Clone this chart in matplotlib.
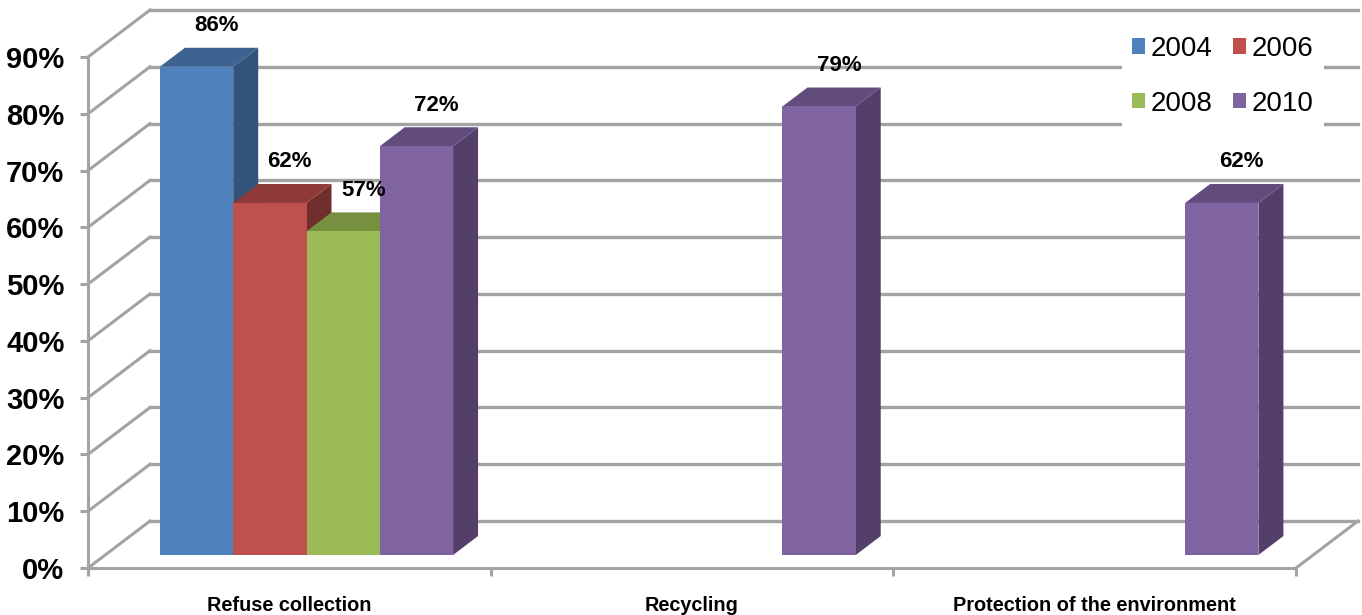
import matplotlib
matplotlib.use("Agg")
import matplotlib.pyplot as plt
from matplotlib.patches import Patch, Polygon

plt.rcParams["font.family"] = ["Liberation Sans", "DejaVu Sans"]

categories = ["Refuse collection", "Recycling", "Protection of the environment"]
years = ["2004", "2006", "2008", "2010"]
values_2004 = [86, None, None]
values_2006 = [62, None, None]
values_2008 = [57, None, None]
values_2010 = [72, 79, 62]
y_ticks = [0, 10, 20, 30, 40, 50, 60, 70, 80, 90]

series = [values_2004, values_2006, values_2008, values_2010]
# front, top and side face colours per year
front = ["#4F81BD", "#C0504D", "#9BBB59", "#8064A2"]
top = ["#3D6392", "#8E3A38", "#76903F", "#624C7E"]
side = ["#33537A", "#702E2C", "#5F7534", "#533F6A"]

GREY = "#A3A3A3"
W, H = 1362, 615

# depth of the 3D box, in data units
DX = 62 / 402.67
DY = 47 / 5.68
BAR_W = 0.182
GROUP_PAD = 0.136
D0, D1 = 0.277, 0.68


def project(x, y, d):
    return x + d * DX, y + d * DY


fig = plt.figure(figsize=(W / 100, H / 100), dpi=100)
ax = fig.add_axes([88 / W, (H - 568) / H, 1208 / W, 511 / H])
ax.set_xlim(0, 3)
ax.set_ylim(0, 90)
ax.patch.set_alpha(0)
ax.spines["top"].set_visible(False)
ax.spines["right"].set_visible(False)
for s in ["left", "bottom"]:
    ax.spines[s].set_color(GREY)
    ax.spines[s].set_linewidth(2.2)

ax.set_yticks(y_ticks)
ax.set_yticklabels([f"{v}%" for v in y_ticks], fontsize=21, fontweight="bold")
ax.set_xticks([0, 1, 2, 3])
ax.set_xticklabels([])
ax.set_xticks([0.5, 1.5, 2.5], minor=True)
ax.set_xticklabels(categories, minor=True, fontsize=14.3, fontweight="bold")
ax.tick_params(axis="x", which="minor", length=0, pad=20.2)
ax.tick_params(axis="both", which="major", color=GREY, width=2.2, length=6)
ax.tick_params(axis="y", pad=11)

# back wall, left wall and floor edge
for v in y_ticks:
    x0, y0 = project(0, v, 1)
    x1, y1 = project(3, v, 1)
    ax.plot([0, x0], [v, y0], color=GREY, lw=2.2, clip_on=False, zorder=1)
    ax.plot([x0, x1], [y0, y1], color=GREY, lw=2.4, clip_on=False, zorder=1)
x1, y1 = project(3, 0, 1)
ax.plot([3, x1], [0, y1], color=GREY, lw=2.2, clip_on=False, zorder=1)

z = 3
for i, vals in enumerate(series):
    for c, v in enumerate(vals):
        if v is None:
            continue
        left = c + GROUP_PAD + i * BAR_W
        right = left + BAR_W
        fa = [project(left, 0, D0), project(right, 0, D0),
              project(right, v, D0), project(left, v, D0)]
        to = [project(left, v, D0), project(right, v, D0),
              project(right, v, D1), project(left, v, D1)]
        si = [project(right, 0, D0), project(right, 0, D1),
              project(right, v, D1), project(right, v, D0)]
        for pts, col in [(si, side[i]), (to, top[i]), (fa, front[i])]:
            ax.add_patch(Polygon(pts, closed=True, facecolor=col, edgecolor="none",
                                 clip_on=False, zorder=z))
        cx, cy = project((left + right) / 2, v, D0)
        ax.annotate(f"{v}%", (cx, cy), xytext=(20, 41), textcoords="offset pixels",
                    ha="center", va="center", fontsize=16, fontweight="bold",
                    annotation_clip=False, zorder=20)
        z += 1

handles = [Patch(facecolor=c, edgecolor="none") for c in front]
# column-first ordering so 2004/2006 sit on the top row
order = [0, 2, 1, 3]
leg = fig.legend([handles[k] for k in order], [years[k] for k in order], ncol=2,
                 loc="upper left", bbox_to_anchor=(1122 / W, 1 - 26 / H),
                 bbox_transform=fig.transFigure, frameon=True, fontsize=20,
                 facecolor="white", edgecolor="none", framealpha=1,
                 borderaxespad=0, borderpad=0.36, handlelength=0.48, handleheight=0.48,
                 handletextpad=0.2, columnspacing=0.73, labelspacing=1.03, fancybox=False)
leg.set_zorder(2)

fig.savefig("out.png", dpi=100)
plt.close(fig)
